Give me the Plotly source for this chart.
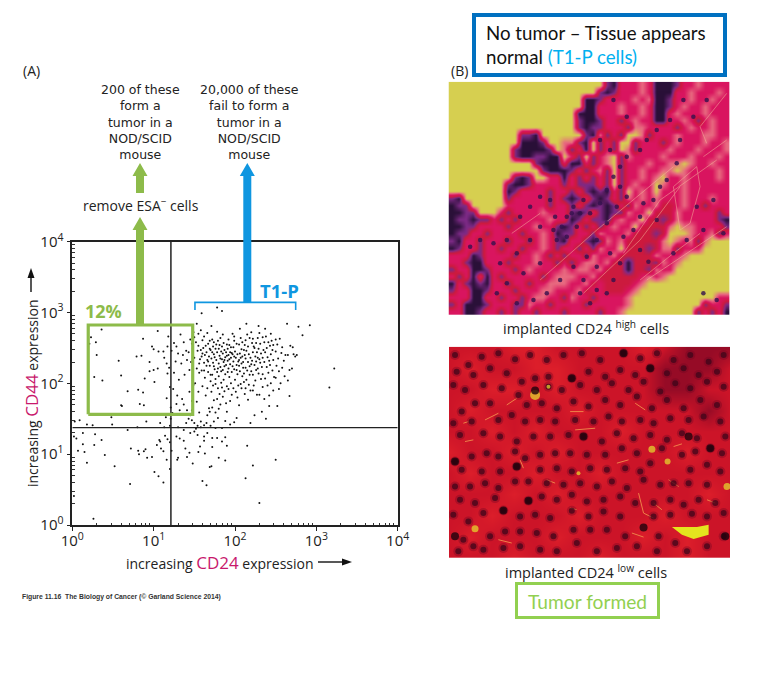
import plotly.graph_objects as go

# the page keeps the browser's 8px body margin, so the figure is that much smaller
PAGE = 8
W, H = 760 - PAGE, 675 - PAGE

# flow cytometry dots, (log10 CD24, log10 CD44)
dots_log = [
    (1.78,3.07),(1.59,2.99),(1.84,3.02),(2.92,2.82),(2.78,2.80),(2.83,2.68),(2.64,2.84),(3.22,2.21),(3.16,1.94),
    (0.36,2.76),(0.23,2.65),(0.21,2.56),(0.29,2.58),(0.30,2.40),(0.57,2.32),(0.27,2.09),(0.37,2.04),(0.60,2.11),
    (0.68,1.89),(0.81,1.91),(0.87,1.87),(0.60,1.69),(0.61,1.68),(0.83,1.71),(0.88,1.69),(0.87,2.63),(0.79,2.38),
    (0.85,2.39),(0.95,2.30),(0.98,2.52),(1.00,2.48),(1.06,2.45),(1.05,2.74),(0.95,2.17),(1.00,2.19),(1.05,2.21),
    (0.89,2.07),(1.01,2.02),(1.18,2.66),(1.17,2.52),(1.16,2.28),(1.17,2.14),(1.20,1.95),(1.16,1.79),(1.21,1.66),
    (1.12,2.45),(1.13,2.36),(1.19,2.22),(1.22,2.46),(1.25,2.57),(1.28,2.52),(1.33,2.69),(1.37,2.58),(1.30,2.42),
    (1.36,2.40),(1.40,2.46),(1.45,2.62),(1.47,2.56),(1.43,2.44),(1.27,2.31),(1.34,2.28),(1.41,2.33),(1.46,2.30),
    (1.25,2.15),(1.31,2.05),(1.38,2.12),(1.44,2.19),(1.48,2.04),(1.49,1.98),(1.24,1.92),(1.29,1.83),(1.35,1.78),
    (1.37,1.70),(1.44,1.88),(1.47,1.75),(1.28,1.71),(1.41,1.62),(1.23,1.58),(1.32,1.62),(1.47,1.62),(1.45,1.55),
    (1.43,1.50),(1.40,1.44),(1.48,2.49),(1.49,2.72),(1.50,2.65),(1.53,2.84),(1.55,2.70),(1.52,2.58),(1.50,2.36),
    (1.53,2.21),(1.51,2.00),(1.54,2.46),(1.57,2.34),(1.56,2.15),(1.55,1.88),(1.53,1.74),(1.56,1.59),(1.58,2.75),
    (1.60,2.61),(1.61,2.50),(1.60,2.42),(1.62,2.29),(1.59,2.18),(1.63,2.08),(1.60,1.96),(1.64,1.83),(1.58,1.46),
    (1.66,2.71),(1.67,2.56),(1.65,2.44),(1.68,2.38),(1.66,2.33),(1.69,2.25),(1.67,2.16),(1.70,2.03),(1.66,1.93),
    (1.68,1.65),(1.69,1.60),(1.66,1.55),(1.71,2.81),(1.72,2.62),(1.73,2.52),(1.70,2.47),(1.74,2.41),(1.71,2.35),
    (1.73,2.29),(1.75,2.20),(1.72,2.12),(1.76,2.06),(1.73,1.97),(1.71,1.88),(1.74,1.76),(1.72,1.66),(1.76,1.59),
    (1.74,1.46),(1.78,2.73),(1.79,2.60),(1.77,2.55),(1.80,2.49),(1.78,2.44),(1.81,2.39),(1.77,2.33),(1.80,2.28),
    (1.82,2.23),(1.78,2.16),(1.80,2.10),(1.83,2.01),(1.79,1.93),(1.81,1.85),(1.78,1.78),(1.82,1.70),(1.80,1.64),
    (1.79,1.51),(1.85,2.69),(1.86,2.57),(1.84,2.52),(1.87,2.47),(1.85,2.42),(1.88,2.37),(1.84,2.34),(1.86,2.30),
    (1.89,2.26),(1.85,2.19),(1.88,2.13),(1.86,2.05),(1.90,1.96),(1.87,1.89),(1.85,1.81),(1.89,1.72),(1.90,1.60),
    (1.88,1.47),(1.92,2.62),(1.93,2.54),(1.91,2.49),(1.94,2.44),(1.92,2.40),(1.95,2.36),(1.91,2.32),(1.94,2.27),
    (1.92,2.21),(1.96,2.16),(1.93,2.09),(1.95,2.00),(1.92,1.92),(1.96,1.84),(1.94,1.75),(1.97,2.70),(1.99,2.60),
    (1.98,2.51),(2.00,2.45),(1.97,2.41),(2.01,2.36),(1.98,2.31),(2.02,2.26),(1.99,2.20),(2.03,2.13),(2.00,2.05),
    (2.04,1.97),(2.01,1.88),(2.03,1.80),(2.05,1.69),(2.02,1.51),(2.06,2.77),(2.07,2.64),(2.05,2.55),(2.08,2.48),
    (2.06,2.42),(2.09,2.38),(2.05,2.33),(2.08,2.28),(2.10,2.22),(2.06,2.17),(2.09,2.10),(2.11,2.02),(2.08,1.93),
    (2.12,1.85),(2.14,2.84),(2.15,2.69),(2.13,2.61),(2.16,2.52),(2.14,2.46),(2.17,2.41),(2.13,2.35),(2.16,2.30),
    (2.18,2.24),(2.15,2.18),(2.18,2.12),(2.14,2.05),(2.17,1.98),(2.19,1.90),(2.16,1.77),(2.20,2.72),(2.22,2.63),
    (2.21,2.57),(2.24,2.50),(2.22,2.44),(2.25,2.38),(2.21,2.32),(2.24,2.26),(2.26,2.19),(2.22,2.12),(2.25,2.04),
    (2.23,1.97),(2.27,1.84),(2.24,1.55),(2.29,2.81),(2.30,2.71),(2.28,2.64),(2.31,2.56),(2.29,2.49),(2.32,2.42),
    (2.28,2.36),(2.31,2.29),(2.33,2.23),(2.29,2.14),(2.32,2.06),(2.34,1.95),(2.30,1.84),(2.36,1.78),(2.33,1.60),
    (2.37,2.77),(2.38,2.66),(2.36,2.58),(2.39,2.50),(2.37,2.44),(2.40,2.37),(2.36,2.30),(2.39,2.23),(2.41,2.15),
    (2.37,2.07),(2.40,1.97),(2.42,1.83),(2.44,2.70),(2.45,2.60),(2.43,2.53),(2.46,2.47),(2.44,2.41),(2.47,2.33),
    (2.43,2.26),(2.46,2.18),(2.48,2.09),(2.44,2.00),(2.47,1.90),(2.50,2.62),(2.52,2.55),(2.50,2.45),(2.53,2.35),
    (2.51,2.25),(2.54,2.17),(2.50,2.08),(2.56,2.00),(2.55,2.63),(2.58,2.51),(2.57,2.43),(2.60,2.32),(2.58,2.22),
    (2.61,2.10),(2.62,2.40),(2.65,2.40),(2.68,2.53),(2.71,2.51),(2.70,2.21),(2.67,2.19),(2.72,2.41),(2.74,2.38),
    (2.76,2.40),(2.65,2.04),(2.67,1.82),(2.54,1.92),(2.52,1.68),(2.42,1.68),(2.38,1.50),(2.19,1.44),(1.99,1.45),
    # densest part of the cloud
    (1.58,2.47),(1.63,2.40),(1.64,2.53),(1.69,2.49),(1.72,2.44),(1.75,2.37),(1.76,2.49),(1.83,2.45),(1.82,2.35),
    (1.89,2.44),(1.90,2.39),(1.87,2.33),(1.93,2.34),(1.96,2.43),(1.99,2.38),(2.03,2.41),(2.04,2.31),(2.07,2.36),
    (2.10,2.30),(2.12,2.40),(2.11,2.47),(2.19,2.36),(2.20,2.27),(2.26,2.31),(2.27,2.44),(2.34,2.36),(2.35,2.47),
    (1.65,2.25),(1.74,2.24),(1.83,2.17),(1.91,2.16),(1.97,2.24),(2.02,2.19),(2.11,2.14),(2.20,2.17),(2.28,2.21),
    (1.62,2.18),(1.70,2.12),(1.76,1.99),(1.84,1.94),(1.98,1.93),(2.07,1.99),(2.13,1.93),(2.22,1.90),(2.34,2.13),
    (1.74,2.58),(1.82,2.64),(1.90,2.55),(1.99,2.66),(2.09,2.58),(2.18,2.64),(2.26,2.57),(2.34,2.65),(2.41,2.58),
    (1.56,2.28),(1.59,2.38),(1.67,2.31),(1.79,2.21),(1.87,2.24),(2.05,2.25),(2.13,2.22),(2.30,2.34),(2.42,2.32),
    (1.55,2.53),(1.62,2.66),(1.69,2.60),(1.81,2.54),(1.95,2.51),(2.02,2.56),(2.12,2.54),(2.23,2.52),(2.47,2.54),
    # low CD44 quadrant
    (0.02,1.25),(0.05,1.22),(0.13,1.30),(0.28,1.28),(0.27,1.13),(0.36,1.20),(0.13,1.14),(0.07,1.05),(0.15,1.03),
    (0.18,0.88),(0.40,0.99),(0.52,0.83),(0.72,1.08),(0.81,1.05),(0.90,1.07),(0.92,0.95),(0.98,0.96),(0.82,1.00),
    (1.04,1.13),(1.09,1.08),(1.12,1.04),(1.07,1.20),(1.14,1.26),(1.17,1.21),(1.20,1.17),(1.22,1.05),(1.16,0.92),
    (1.20,0.79),(1.28,1.25),(1.32,1.22),(1.30,0.95),(1.29,0.92),(1.37,1.19),(1.39,1.08),(1.44,1.02),(1.41,0.96),
    (1.48,0.87),(1.55,1.03),(1.57,1.11),(1.62,1.19),(1.50,1.32),(1.54,1.27),(1.62,1.25),(1.66,1.30),(1.72,1.23),
    (1.78,1.23),(1.84,1.18),(1.88,1.24),(1.90,1.12),(1.72,1.10),(1.63,1.01),(1.80,0.95),(1.88,0.91),(1.69,0.82),
    (1.71,0.83),(1.60,0.62),(1.65,0.56),(2.15,1.12),(2.22,0.84),(2.50,0.92),(2.13,0.66),(2.30,0.31),(0.71,0.58),
    (1.01,0.75),(1.06,0.69),(1.12,0.60),(0.02,0.41),(0.26,0.09),(0.88,1.04),(1.08,1.18),(1.45,1.30),(1.52,1.36),
    # just above the horizontal gate line
    (0.03,1.46),(0.09,1.48),(0.18,1.42),(0.25,1.41),(0.48,1.52),(0.49,1.42),(0.68,1.34),(0.80,1.38),(0.91,1.46),
    (1.08,1.44),(1.15,1.52),(1.21,1.50),(1.13,1.38),(1.20,1.40),(1.30,1.38),(1.37,1.34),(1.47,1.48),(1.50,1.44),
    (1.54,1.40),(1.58,1.38),(1.62,1.41),(1.65,1.44),(1.70,1.40),(1.76,1.37),(1.84,1.37),(1.94,1.42),
]

gate_x24 = 16.3
gate_y44 = 23.7
green_gate_x = [1.57, 30.2]
green_gate_y = [36.5, 667]
t1p_x = [32.2, 557]
t1p_top = 1393
t1p_foot = 1084

# histology panels: tone per patch, 0 darkest nucleus ... 5 yellow background
normal_tissue = [
    "5555555555555555555555 1033343 000 13343333",
    "555555555555555555555 10133343 000 33433343",
    "5555555555555555555 0013333434 001 33433433",
    "5555555555555555555 0033343343 001 34334333",
    "555555555555555555 00033343343 003 43334333",
    "555555555555555555 10013313433 003 34313433",
    "555555555555555555 10113331443 333 13433433",
    "5555555555 110 555555 1041315541 333 43334433",
    "5555555555 0001 5544 10513155133 313 43334334",
    "555555555 100001 54 130513154133 334 33343334",
    "555555555 1001100 53 15134514333 343 33433343",
    "555555555555 1000300 3134 5133 34 334 45433433",
    "5555555555555 10001313 41513343 344 54333343",
    "555555555 101 55 3303131 31513343 453 34333343",
    "55555555 1001 3333 13111 31513433 543 34333333",
    "55555555 013333133131010 315343 533 34333333",
    "10 555555 133333131 0131013 14343 433 34333433",
    "011555553 33333133 1310101 31433 422 34331333",
    "001155531 33334333 1013101 14335 222 43333313",
    "011011313 13333433 0131103 43352 212 43333310",
    "001133331 33343310 1313134 33522 224 54433331",
    "011331333 31334301 1331433 34222 125 55433413",
    "103313331 33134310 3310143 42222 245 43414555",
    "013313313 31334313 3131433 52221 244 13335555",
    "333013333 13343131 3314334 22222 433 34555555",
    "331003331 33343313 1344342 20222 143 45555555",
    "133001333 13433334 3443422 20221 433 55555555",
    "313030313 33331344 4334222 22234 345 55555555",
    "031010331 33133444 3342322 22345 555 55555555",
    "133001333 13334433 3423322 23455 555 55555555",
    "333003313 31344331 4331333 34555 555 55555533",
    "130001333 11433133 3313333 34555 555 55551331",
    "330013313 13313331 3333133 45555 555 55513130",
]
normal_tones = ["#2a1038", "#7d2a86", "#cc1a3e", "#d9155f", "#e86a80", "#d6cf50"]
# dark nuclei and pale fibres in the upper photograph, in crop pixels
normal_nuclei = [
    (300,590),(330,600),(270,620),(240,650),(200,720),(160,730),(120,720),(90,740),(230,760),(180,790),(270,720),(300,680),
    (340,690),(350,720),(380,650),(400,620),(430,600),(410,680),(380,710),(450,640),(480,610),(500,570),(520,530),(540,500),
    (560,470),(600,450),(620,420),(650,390),(540,560),(560,590),(530,620),(500,670),(470,720),(440,770),(400,800),(360,840),
    (320,880),(280,900),(230,910),(200,850),(170,880),(250,820),(300,790),(430,840),(470,800),(510,760),(550,710),(600,650),
    (640,600),(680,540),(710,490),(540,790),(600,750),(650,660),(625,785),(740,720),(790,690),(700,760),(770,620),(820,600),
    (850,700),(790,880),(830,900),(450,910),(420,880),(500,880),(470,870),(520,840),(580,690),(610,610),(660,560),(720,420),
    (760,350),(800,300),(730,300),(690,360),(560,350),(520,300),(480,420),(510,450),(395,640),(420,640),(365,680),(345,650),
]
fibre_x = [300,470,700,None,430,600,720,None,550,660,830,None,720,700,770,780,750,720,None,790,860,None,800,780,860,None,215,300,None,600,700,780,None,620,740,860]
fibre_y = [840,690,500,None,880,720,560,None,760,600,480,None,690,560,500,560,670,690,None,470,420,None,430,380,280,None,700,640,None,840,760,700,None,840,760,680]

tumour_tissue = [
    "11122111121000",
    "12112211110001",
    "11221211110011",
    "12111121111101",
    "11212111211111",
    "21121211111211",
    "12112112111111",
    "11121211111121",
    "11211121112111",
    "12111211121211",
    "11121112111211",
]
tumour_tones = ["#960b26", "#cc1428", "#dc1e2a"]

# nuclei seen in the lower photograph, in crop pixels
nuclei = [
    (45,45),(85,75),(125,50),(175,40),(225,58),(270,45),(320,60),(370,45),(425,40),(480,60),(550,40),(600,55),(650,40),(700,60),(750,45),(805,65),(850,45),
    (50,95),(100,105),(150,85),(200,100),(245,125),(285,115),(325,110),(395,115),(445,95),(495,110),(540,90),(585,105),(630,85),(680,100),(730,85),(775,105),(830,95),
    (40,135),(75,150),(130,135),(185,145),(235,165),(325,140),(365,150),(420,135),(470,150),(515,130),(565,150),(610,125),(660,155),(705,130),(750,145),(800,125),(850,140),
    (65,215),(105,190),(150,190),(260,195),(305,190),(350,205),(400,185),(445,200),(495,180),(540,195),(590,170),(635,205),(680,180),(730,205),(780,180),(830,195),
    (40,250),(95,245),(175,240),(215,225),(255,245),(300,240),(345,245),(405,240),(460,245),(505,230),(545,245),(600,240),(640,250),(690,235),(745,240),(790,230),(840,245),
    (60,285),(130,280),(180,290),(230,305),(280,290),(330,290),(385,285),(430,290),(485,305),(530,280),(580,295),(630,285),(680,300),(725,280),(770,295),(810,325),(855,290),
    (45,365),(95,350),(140,340),(175,350),(225,335),(255,355),(300,345),(345,340),(390,340),(440,345),(495,345),(545,325),(590,340),(665,325),(725,345),(765,335),(845,340),
    (65,390),(125,395),(180,395),(230,380),(300,390),(350,385),(395,395),(450,385),(500,390),(555,385),(600,395),(630,370),(750,390),(800,375),(840,395),
    (45,440),(90,440),(135,430),(175,445),(225,425),(265,425),(320,430),(370,435),(420,430),(470,440),(515,425),(560,445),(610,420),(660,435),(700,430),(745,430),(800,435),
    (60,480),(105,490),(165,475),(265,483),(305,470),(350,480),(395,465),(440,485),(490,480),(540,470),(585,490),(640,490),(690,480),(730,495),(775,480),(825,490),
    (40,525),(85,545),(130,520),(190,512),(240,530),(285,525),(330,535),(395,513),(445,530),(490,515),(540,530),(640,530),(690,525),(755,522),(800,530),(850,520),
    (70,600),(100,620),(150,590),(195,575),(240,575),(290,580),(340,590),(400,570),(450,570),(500,570),(555,590),(655,590),(705,610),(850,590),
    (55,635),(130,630),(190,625),(240,620),(300,630),(350,635),(410,610),(470,635),(530,625),(590,620),(650,635),(740,635),(800,620),
]
big_nuclei = [(395,115),(550,40),(630,85),(230,380),(265,483),(45,365),(810,325),(610,563),(45,590),(285,152),(190,512),(430,290),(745,290),(855,590)]
yellow_spots = [(285,165),(635,328),(682,365),(860,440),(105,567),(415,400),(325,140)]
yellow_spot_sizes = [10, 7, 6, 7, 7, 4, 4]
lesion_x = [695,770,805,805,760,725,695]
lesion_y = [562,562,555,585,598,585,562]
membrane_x = [200,230,None,390,430,None,405,465,None,240,250,None,595,610,640,None,70,85,None,135,175,None,585,615,None,75,100,None,700,725,None,575,610,None,390,410,None,530,565,None,640,665,None,320,345,None,685,715,None,800,825,None,175,215]
membrane_y = [195,175,None,215,215,None,270,265,None,360,385,None,460,520,535,None,250,245,None,240,220,None,190,210,None,305,300,None,320,312,None,580,592,None,505,510,None,370,360,None,490,510,None,420,430,None,420,440,None,480,490,None,600,610]

tick_vals = [1, 10, 100, 1000, 10000]
tick_text = ["10<sup>0</sup>", "10<sup>1</sup>", "10<sup>2</sup>", "10<sup>3</sup>", "10<sup>4</sup>"]
minor_vals = [m * d for d in tick_vals[:4] for m in range(2, 10)]

GREEN = "#8dbb4a"
BLUE = "#0f96e0"
MAGENTA = "#c8186c"
FONT = "Open Sans"
BLOCK_FONT = "DejaVu Sans"
CALLOUT = "Lato"


def px(x):
    return (x - PAGE) / W


def py(y):
    return 1 - (y - PAGE) / H


def tone_scale(tones):
    return [[i / (len(tones) - 1), c] for i, c in enumerate(tones)]


def note(text, x, y, size=14, color="#222", family=FONT, anchor="center", angle=0):
    fig.add_annotation(text=text, x=px(x), y=py(y), xref="paper", yref="paper", showarrow=False,
                       xanchor=anchor, yanchor="middle", textangle=angle,
                       font=dict(size=size, color=color, family=family))


def up_arrow(x, tip, base, color):
    path = (f"M {px(x-4)} {py(base)} L {px(x-4)} {py(tip+13)} L {px(x-7.5)} {py(tip+13)} L {px(x)} {py(tip)} "
            f"L {px(x+7.5)} {py(tip+13)} L {px(x+4)} {py(tip+13)} L {px(x+4)} {py(base)} Z")
    fig.add_shape(type="path", path=path, xref="paper", yref="paper", fillcolor=color, line_width=0)


def frame(x0, y0, x1, y1, color, width):
    fig.add_shape(type="rect", x0=px(x0), x1=px(x1), y0=py(y0), y1=py(y1), xref="paper", yref="paper",
                  line=dict(color=color, width=width), fillcolor="white")


fig = go.Figure()

# flow plot
dots_x = [10 ** d[0] for d in dots_log]
dots_y = [10 ** d[1] for d in dots_log]
fig.add_trace(go.Scatter(x=dots_x, y=dots_y, mode="markers", marker=dict(color="#111", size=2, line_width=0)))
fig.add_trace(go.Scatter(x=[gate_x24, gate_x24], y=[1, 10000], mode="lines", line=dict(color="#222", width=1.5)))
fig.add_trace(go.Scatter(x=[1, 10000], y=[gate_y44, gate_y44], mode="lines", line=dict(color="#222", width=1.2)))
fig.add_trace(go.Scatter(x=[green_gate_x[0], green_gate_x[1], green_gate_x[1], green_gate_x[0], green_gate_x[0]],
                         y=[green_gate_y[0], green_gate_y[0], green_gate_y[1], green_gate_y[1], green_gate_y[0]],
                         mode="lines", line=dict(color=GREEN, width=3.2)))
fig.add_trace(go.Scatter(x=[t1p_x[0], t1p_x[0], t1p_x[1], t1p_x[1]], y=[t1p_foot, t1p_top, t1p_top, t1p_foot],
                         mode="lines", line=dict(color=BLUE, width=1.6)))

# photographs
fig.add_trace(go.Heatmap(z=[[int(c) for c in row.replace(" ", "")[:40]] for row in normal_tissue], zmin=0, zmax=5,
                         x0=35.5, dx=21.1, y0=255.6, dy=21.2,
                         colorscale=tone_scale(normal_tones), showscale=False, zsmooth="best",
                         xaxis="x2", yaxis="y2"))
fig.add_trace(go.Scatter(x=fibre_x, y=fibre_y, mode="lines", opacity=0.6, line=dict(color="#f6c0a0", width=0.8),
                         xaxis="x2", yaxis="y2"))
fig.add_trace(go.Scatter(x=[n[0] for n in normal_nuclei], y=[n[1] for n in normal_nuclei], mode="markers",
                         marker=dict(color="rgba(51,18,76,0.8)", size=4.5, line_width=0), xaxis="x2", yaxis="y2"))
fig.add_trace(go.Heatmap(z=[[int(c) for c in row] for row in tumour_tissue], zmin=0, zmax=2,
                         x0=27, dx=842 / 13, y0=20, dy=635 / 10,
                         colorscale=tone_scale(tumour_tones), showscale=False, zsmooth="best",
                         xaxis="x3", yaxis="y3"))
fig.add_trace(go.Scatter(x=membrane_x, y=membrane_y, mode="lines", line=dict(color="#ee8048", width=1),
                         xaxis="x3", yaxis="y3"))
fig.add_trace(go.Scatter(x=[n[0] for n in nuclei], y=[n[1] for n in nuclei], mode="markers",
                         marker=dict(color="rgba(110,6,34,0.35)", size=10, line_width=0), xaxis="x3", yaxis="y3"))
fig.add_trace(go.Scatter(x=[n[0] for n in nuclei], y=[n[1] for n in nuclei], mode="markers",
                         marker=dict(color="rgba(55,5,25,0.7)", size=6, line_width=0), xaxis="x3", yaxis="y3"))
fig.add_trace(go.Scatter(x=[s[0] for s in yellow_spots], y=[s[1] for s in yellow_spots], mode="markers",
                         marker=dict(color="#e6e02e", size=yellow_spot_sizes, line_width=0), xaxis="x3", yaxis="y3"))
fig.add_trace(go.Scatter(x=[n[0] for n in big_nuclei], y=[n[1] for n in big_nuclei], mode="markers",
                         marker=dict(color="rgba(30,3,12,0.8)", size=8, line_width=0), xaxis="x3", yaxis="y3"))
fig.add_trace(go.Scatter(x=lesion_x, y=lesion_y, mode="lines", fill="toself", fillcolor="#e4e41e", line_width=0,
                         xaxis="x3", yaxis="y3"))

log_axis = dict(type="log", range=[0, 4], tickvals=tick_vals, ticktext=tick_text, ticks="outside", ticklen=4,
                tickwidth=1.4, tickcolor="#222", showgrid=False, zeroline=False, showline=True, linecolor="#222",
                linewidth=1.6, mirror=True, tickfont=dict(size=15, family=FONT, color="#222"),
                minor=dict(tickvals=minor_vals, ticks="inside", ticklen=2.5, tickcolor="#333", tickwidth=1, showgrid=False))

fig.update_layout(
    width=W, height=H, margin=dict(l=0, r=0, t=0, b=0, autoexpand=False), paper_bgcolor="white", plot_bgcolor="white",
    showlegend=False,
    xaxis=dict(domain=[px(72.3), px(397.7)], anchor="y", ticklabelstandoff=-3, **log_axis),
    yaxis=dict(domain=[py(525), py(241.7)], anchor="x", **log_axis),
    xaxis2=dict(domain=[px(448.5), px(729.7)], anchor="y2", visible=False, range=[25, 869]),
    yaxis2=dict(domain=[py(315), py(81.7)], anchor="x2", visible=False, range=[945, 245]),
    xaxis3=dict(domain=[px(449), px(730)], anchor="y3", visible=False, range=[27, 869]),
    yaxis3=dict(domain=[py(558), py(346.7)], anchor="x3", visible=False, range=[655, 20]),
)

# arrows coming out of the gates
up_arrow(140, 217, 325, GREEN)
up_arrow(140, 163, 193, GREEN)
up_arrow(247.3, 163, 302, BLUE)

# axis title arrows
fig.add_shape(type="line", x0=px(318), x1=px(344), y0=py(562), y1=py(562), xref="paper", yref="paper",
              line=dict(color="#111", width=1.4))
fig.add_shape(type="path", path=f"M {px(342)} {py(558.5)} L {px(352)} {py(562)} L {px(342)} {py(565.5)} Z",
              xref="paper", yref="paper", fillcolor="#111", line_width=0)
fig.add_shape(type="line", x0=px(31), x1=px(31), y0=py(292), y1=py(276), xref="paper", yref="paper",
              line=dict(color="#111", width=1.4))
fig.add_shape(type="path", path=f"M {px(27.5)} {py(278)} L {px(31)} {py(268)} L {px(34.5)} {py(278)} Z",
              xref="paper", yref="paper", fillcolor="#111", line_width=0)

# callout boxes
frame(474, 15, 725, 75, "#0070c0", 4)
frame(516.5, 583.5, 658.5, 617.5, "#92d050", 3)

note("(A)", 31, 71)
note("200 of these<br>form a<br>tumor in a<br>NOD/SCID<br>mouse", 140, 122, 12.5, family=BLOCK_FONT)
note("20,000 of these<br>fail to form a<br>tumor in a<br>NOD/SCID<br>mouse", 249, 122, 12.5, family=BLOCK_FONT)
note("remove ESA<sup>−</sup> cells", 141, 205)
note("<b>12%</b>", 104, 311, 18, GREEN)
note("<b>T1-P</b>", 279, 290, 18.5, BLUE)
note(f'increasing <span style="color:{MAGENTA};font-size:17px">CD24</span> expression', 219.5, 562, 14)
note(f'increasing <span style="color:{MAGENTA};font-size:17px">CD44</span> expression', 31, 393, 14, angle=-90)
note("<b>Figure 11.16  The Biology of Cancer (© Garland Science 2014)</b>", 20, 597, 6.8, "#333",
     family="Liberation Sans", anchor="left")
note("(B)", 459, 71)
note("No tumor – Tissue appears", 484, 33, 18.7, "#111", CALLOUT, anchor="left")
note('normal <span style="color:#00b0f0">(T1-P cells)</span>', 484, 57, 18.7, "#111", CALLOUT, anchor="left")
note("implanted CD24 <sup>high</sup> cells", 586, 327, 14.5)
note("implanted CD24 <sup>low</sup> cells", 586, 571, 14.5)
note("Tumor formed", 587, 601, 19.2, "#92d050", CALLOUT)

fig.write_html("out.html")
